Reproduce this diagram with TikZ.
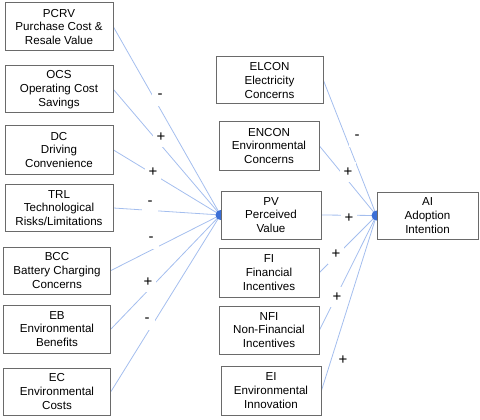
\documentclass[tikz,border=0pt]{standalone}
\usepackage{fontspec}
\setmainfont{Liberation Sans}
\usetikzlibrary{backgrounds}
\definecolor{linkblue}{HTML}{A4BEEE}
\definecolor{dotblue}{HTML}{3C6FD6}
\definecolor{boxgray}{HTML}{6A6A6A}
\tikzset{
  factor/.style={draw=boxgray, line width=1pt, fill=white, align=center,
    inner sep=0pt, font=\fontsize{11.6}{13.7}\selectfont},
  link/.style={draw=linkblue, line width=0.8pt},
  sign/.style={fill=white, inner sep=0pt, minimum width=16pt, minimum height=20pt,
    font=\fontsize{15}{16}\selectfont},
  hub/.style={fill=dotblue}
}
\begin{document}
\begin{tikzpicture}[x=1pt,y=-1pt]
\useasboundingbox (0,0) rectangle (480,420);
% left column
\node[factor, minimum width=108pt, minimum height=48pt] (pcrv) at (59,27) {PCRV\\Purchase Cost \&\\Resale Value};
\node[factor, minimum width=108pt, minimum height=47pt] (ocs) at (59,89.5) {OCS\\Operating Cost\\Savings};
\node[factor, minimum width=108pt, minimum height=48pt] (dc) at (59,150) {DC\\Driving\\Convenience};
\node[factor, minimum width=108pt, minimum height=47pt] (trl) at (59,208) {TRL\\Technological\\Risks/Limitations};
\node[factor, minimum width=107pt, minimum height=47pt] (bcc) at (57,270.5) {BCC\\Battery Charging\\Concerns};
\node[factor, minimum width=107pt, minimum height=48pt] (eb) at (57,329) {EB\\Environmental\\Benefits};
\node[factor, minimum width=107pt, minimum height=47pt] (ec) at (57,391.5) {EC\\Environmental\\Costs};
% middle column
\node[factor, minimum width=107pt, minimum height=47pt] (elcon) at (269.5,80.5) {ELCON\\Electricity\\Concerns};
\node[factor, minimum width=100pt, minimum height=48pt] (encon) at (269,146) {ENCON\\Environmental\\Concerns};
\node[factor, minimum width=100pt, minimum height=48pt] (pv) at (271,215) {PV\\Perceived\\Value};
\node[factor, minimum width=100pt, minimum height=49pt] (fi) at (269,272.5) {FI\\Financial\\Incentives};
\node[factor, minimum width=100pt, minimum height=48pt] (nfi) at (269,330) {NFI\\Non-Financial\\Incentives};
\node[factor, minimum width=100pt, minimum height=49pt] (ei) at (271,390.5) {EI\\Environmental\\Innovation};
% right
\node[factor, minimum width=101pt, minimum height=47pt] (ai) at (427.5,215.5) {AI\\Adoption\\Intention};
\coordinate (pvhub) at (pv.west);
\coordinate (aihub) at (ai.west);
\begin{scope}[on background layer]
  \foreach \n in {pcrv,ocs,dc,trl,bcc,eb,ec} \draw[link] (\n.east) -- (pvhub);
  \foreach \n in {elcon,encon,pv,fi,nfi,ei} \draw[link] (\n.east) -- (aihub);
  \fill[hub] (pvhub) circle (5pt);
  \fill[hub] (aihub) circle (5pt);
\end{scope}
% signs
\node[sign] (s1) at (160,96) {-};
\node[sign] (s2) at (161,137) {+};
\node[sign] (s3) at (153,172) {+};
\node[sign] (s4) at (150,203) {-};
\node[sign] (s5) at (151,239) {-};
\node[sign] (s6) at (148,282) {+};
\node[sign] (s7) at (147,320) {-};
\node[sign] (s8) at (357,137) {-};
\node[sign] (s9) at (348,172) {+};
\node[sign] (s10) at (349,218) {+};
\node[sign] (s11) at (336,254) {+};
\node[sign] (s12) at (337,297) {+};
\node[sign] (s13) at (343,360) {+};
\end{tikzpicture}
\end{document}
